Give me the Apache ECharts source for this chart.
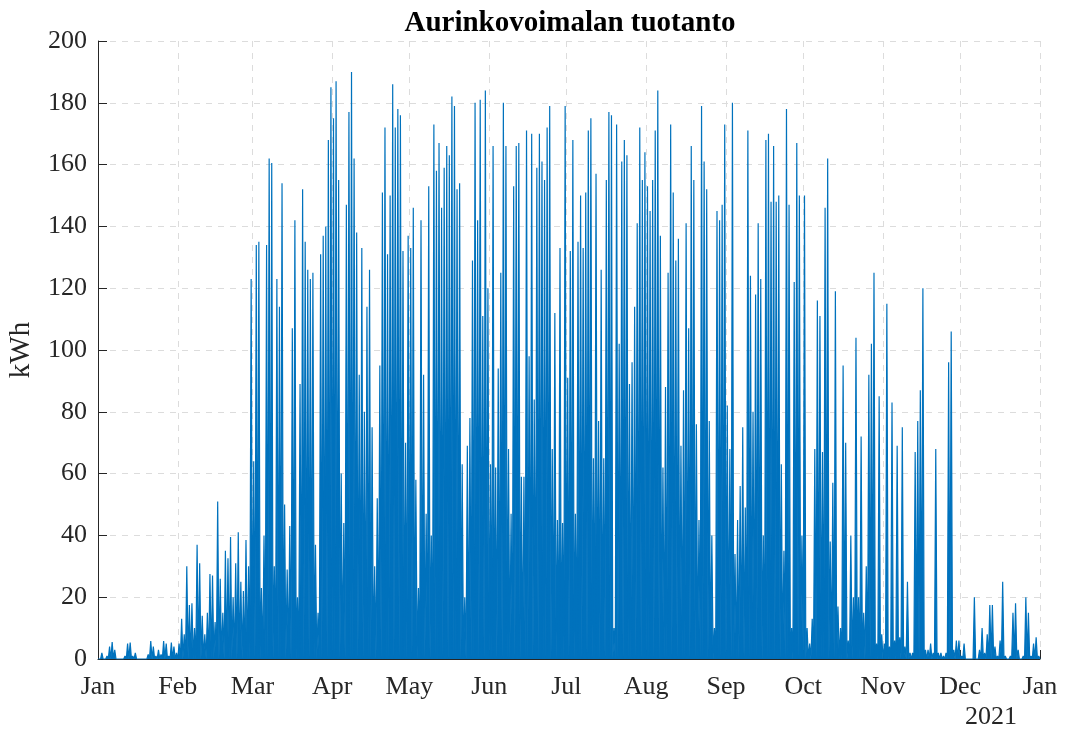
<!DOCTYPE html>
<html>
<head>
<meta charset="utf-8">
<script src="https://cdn.jsdelivr.net/npm/echarts@6/dist/echarts.min.js"></script>
<style>
html,body{margin:0;padding:0;background:#fff;}
#chart{width:1066px;height:731px;}
</style>
</head>
<body>
<div id="chart"></div>
<script>
const monthNames = ['Jan','Feb','Mar','Apr','May','Jun','Jul','Aug','Sep','Oct','Nov','Dec'];
const yTicks = [0,20,40,60,80,100,120,140,160,180,200];

// Daily peak production (kWh)
const jan = [0.5,2,0.5,1,4,5.5,3,0.5,0.3,0.5,1,5,5.3,1,2,0.5,0.3,0.5,0.5,1.5,5.8,4,1,3,1.5,5.8,5,1,5.3,4,2];
const feb = [5,13,8,30,17.5,18,10,37,31,14,8,15,27.5,27,12,51,26,15,35,32.6,39.5,20,31,41,25,22,38.5,30,123];
const mar = [64,134,135,23,40,134,162,160.5,30,123,114,154,50,29,43,107,142,20,89,152,135,126,123,125,37,15,131,137,140,168,185];
const apr = [175,187,155,60,44,147,177,190,162,138,92,133,80,114,126,75,30,52,95,151,172,131,150,186,172,178,176,132,70,137];
const may = [133,146,58,23,142,92,47,153,40,173,158,167,146,159,166,163,182,179,152,154,63,20,69,78,129,180,142,181,111,184,120];
const jun = [63,166,62,94,125,180,166,68,47,153,166,167,59,59,171,98,170,84,159,170,161,155,172,179,68,112,45,133,44,179];
const jul = [91,132,168,47,135,150,133,151,171,175,65,157,77,126,65,155,177,176,10,173,102,161,168,163,89,96,114,141,172,155,164];
const aug = [153,145,155,171,184,137,62,88,125,173,151,129,136,69,87,141,107,166,155,76,45,179,161,152,77,40,10,145,142,147,173];
const sep = [82,68,180,34,45,56,75,49,171,124,80,118,141,123,40,168,170,148,166,148,150,63,35,178,147,10,122,167,150,40];
const oct = [150,10,5,13,68,116,111,67,146,162,38,57,119,17,10,95,70,6,40,20,104,20,72,15,30,92,102,125,5,85,8];
const nov = [5,115,4,83,6,69,7,75,4,25,2,2,67,77,87,120,3,3,5,2,68,2,2,1,2,96,106,3,6,6];
const dec = [1,5,0.5,0.5,0.5,20,0.5,3,10,2,8,17.5,17.5,4,1,6,25,1,0.5,1,15,18,3,0.5,1,20,15,1,5,7,1];

const dailyPeaks = [].concat(jan,feb,mar,apr,may,jun,jul,aug,sep,oct,nov,dec);

// Night-time production is zero; each day's peak is placed at noon
const seriesData = [];
for (let d = 0; d < dailyPeaks.length; d++) {
  const t0 = new Date(2020, 0, 1 + d).getTime();
  seriesData.push([t0, 0]);
  seriesData.push([t0 + 12 * 3600 * 1000, dailyPeaks[d]]);
}
seriesData.push([new Date(2021, 0, 1).getTime(), 0]);

const FONT = '"Liberation Serif", "Times New Roman", serif';
const AXIS_COLOR = '#262626';

const chart = echarts.init(document.getElementById('chart'), null, {renderer: 'canvas'});
chart.setOption({
  animation: false,
  backgroundColor: '#ffffff',
  title: {
    text: 'Aurinkovoimalan tuotanto',
    left: 565,
    textAlign: 'center',
    top: 4,
    textStyle: {fontFamily: FONT, fontWeight: 'bold', fontSize: 29, color: '#000'}
  },
  grid: {left: 98, right: 26, top: 41, bottom: 72, containLabel: false, outerBoundsMode: 'none'},
  xAxis: {
    type: 'time',
    min: new Date(2020, 0, 1).getTime(),
    max: new Date(2021, 0, 1).getTime(),
    minInterval: 28 * 86400000,
    maxInterval: 31 * 86400000,
    splitNumber: 12,
    axisLine: {show: true, lineStyle: {color: AXIS_COLOR, width: 1}},
    axisTick: {show: true, inside: true, length: 9, lineStyle: {color: AXIS_COLOR}},
    axisLabel: {
      show: true,
      margin: 15,
      fontFamily: FONT, fontSize: 26, color: AXIS_COLOR,
      showMinLabel: true, showMaxLabel: true,
      hideOverlap: false,
      formatter: function (v) { return monthNames[new Date(v).getMonth()]; }
    },
    splitLine: {show: true, lineStyle: {color: '#dcdcdc', type: [6, 6], width: 1}}
  },
  yAxis: {
    type: 'value',
    min: yTicks[0],
    max: yTicks[yTicks.length - 1],
    interval: 20,
    name: 'kWh',
    nameLocation: 'middle',
    nameGap: 62,
    nameTextStyle: {fontFamily: FONT, fontSize: 29, color: AXIS_COLOR},
    axisLine: {show: true, lineStyle: {color: AXIS_COLOR, width: 1}},
    axisTick: {show: true, inside: true, length: 9, lineStyle: {color: AXIS_COLOR}},
    axisLabel: {margin: 11, fontFamily: FONT, fontSize: 26, color: AXIS_COLOR},
    splitLine: {show: true, lineStyle: {color: '#dcdcdc', type: [6, 6], width: 1}}
  },
  graphic: [{
    type: 'text',
    right: 49,
    top: 704,
    style: {text: '2021', font: '26px ' + FONT, fill: AXIS_COLOR}
  }],
  series: [{
    type: 'line',
    data: seriesData,
    symbol: 'none',
    sampling: false,
    lineStyle: {color: '#0072BD', width: 1.2},
    areaStyle: {color: '#0072BD', opacity: 1},
    z: 3
  }]
});
</script>
</body>
</html>
